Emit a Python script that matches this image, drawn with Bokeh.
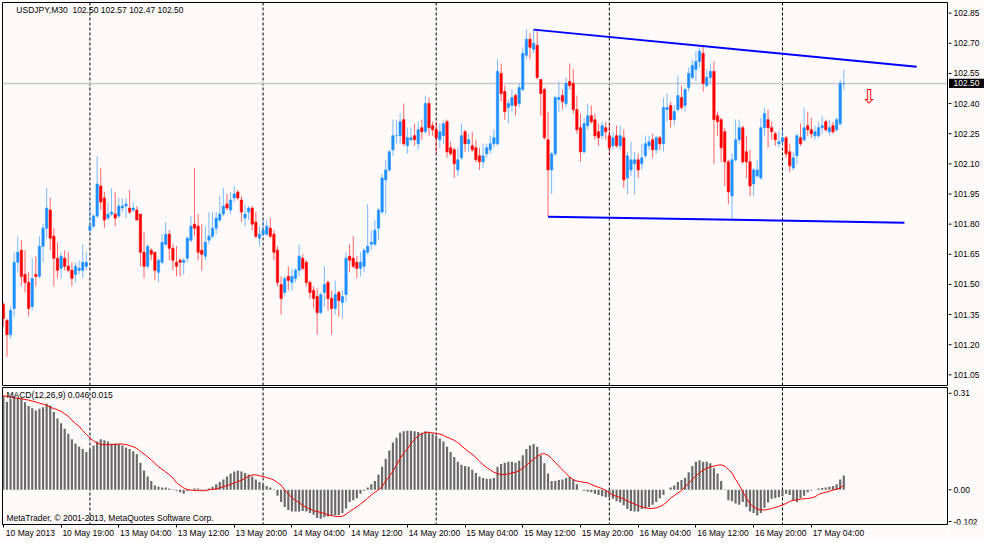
from bokeh.plotting import figure
from bokeh.layouts import column, row
from bokeh.models import ColumnDataSource, FixedTicker, Span, Label, Range1d
from bokeh.embed import file_html
from bokeh.resources import INLINE
from bokeh.core.properties import value

symbol = "USDJPY"
period = "M30"

open_ = [
    101.40, 101.32, 101.25, 101.38, 101.61, 101.67, 101.55, 101.51, 101.39, 101.55,
    101.54, 101.69, 101.78, 101.87, 101.74, 101.63, 101.58, 101.63, 101.59, 101.57,
    101.55, 101.57, 101.57, 101.59, 101.77, 101.79, 101.84, 101.99, 101.93, 101.83,
    101.85, 101.85, 101.84, 101.88, 101.89, 101.88, 101.87, 101.87, 101.85, 101.66,
    101.59, 101.67, 101.66, 101.56, 101.61, 101.70, 101.75, 101.68, 101.61, 101.62,
    101.61, 101.63, 101.72, 101.80, 101.79, 101.67, 101.64, 101.72, 101.74, 101.78,
    101.82, 101.85, 101.90, 101.87, 101.93, 101.96, 101.92, 101.83, 101.86, 101.88,
    101.81, 101.73, 101.75, 101.75, 101.78, 101.75, 101.67, 101.50, 101.46, 101.54,
    101.51, 101.53, 101.57, 101.63, 101.61, 101.51, 101.47, 101.44, 101.36, 101.46,
    101.51, 101.43, 101.38, 101.46, 101.41, 101.45, 101.64, 101.63, 101.61, 101.58,
    101.59, 101.66, 101.70, 101.70, 101.78, 101.86, 102.02, 102.07, 102.17, 102.24,
    102.24, 102.32, 102.19, 102.22, 102.24, 102.20, 102.28, 102.26, 102.40, 102.29,
    102.27, 102.22, 102.24, 102.31, 102.18, 102.17, 102.07, 102.13, 102.26, 102.20,
    102.19, 102.18, 102.14, 102.11, 102.15, 102.17, 102.20, 102.20, 102.55, 102.46,
    102.38, 102.39, 102.44, 102.40, 102.47, 102.64, 102.72, 102.67, 102.69, 102.52,
    102.47, 102.22, 102.07, 102.15, 102.42, 102.44, 102.40, 102.51, 102.50, 102.37,
    102.28, 102.16, 102.29, 102.34, 102.32, 102.26, 102.24, 102.28, 102.24, 102.19,
    102.24, 102.19, 102.23, 102.03, 102.07, 102.10, 102.12, 102.10, 102.14, 102.19,
    102.22, 102.17, 102.23, 102.20, 102.37, 102.39, 102.32, 102.37, 102.43, 102.39,
    102.48, 102.53, 102.57, 102.61, 102.65, 102.49, 102.53, 102.56, 102.34, 102.32,
    102.26, 102.11, 101.94, 102.12, 102.22, 102.28, 102.16, 102.11, 102.00, 102.04,
    102.03, 102.28, 102.32, 102.28, 102.25, 102.20, 102.21, 102.23, 102.16, 102.08,
    102.14, 102.23, 102.22, 102.29, 102.27, 102.24, 102.24, 102.28, 102.31, 102.26,
    102.29, 102.27, 102.30, 102.50,
]
high = [
    101.41, 101.33, 101.39, 101.66, 101.74, 101.72, 101.67, 101.56, 101.63, 101.64,
    101.74, 101.80, 101.98, 101.93, 101.78, 101.71, 101.66, 101.67, 101.66, 101.61,
    101.61, 101.62, 101.70, 101.66, 101.91, 101.85, 102.14, 102.08, 101.96, 101.91,
    101.98, 101.96, 101.93, 101.93, 101.93, 101.97, 101.91, 101.89, 101.85, 101.76,
    101.70, 101.68, 101.66, 101.63, 101.75, 101.81, 101.77, 101.70, 101.69, 101.63,
    101.63, 101.74, 101.84, 102.08, 101.85, 101.80, 101.79, 101.86, 101.86, 101.86,
    101.94, 101.98, 101.95, 101.96, 101.99, 101.97, 101.94, 101.90, 101.89, 101.89,
    101.86, 101.79, 101.82, 101.82, 101.83, 101.77, 101.69, 101.54, 101.54, 101.59,
    101.58, 101.58, 101.70, 101.65, 101.62, 101.52, 101.49, 101.48, 101.46, 101.59,
    101.52, 101.47, 101.52, 101.47, 101.47, 101.66, 101.70, 101.74, 101.64, 101.66,
    101.68, 101.90, 101.77, 101.82, 101.88, 102.05, 102.12, 102.17, 102.32, 102.32,
    102.35, 102.40, 102.28, 102.28, 102.30, 102.31, 102.32, 102.44, 102.43, 102.31,
    102.31, 102.30, 102.31, 102.32, 102.21, 102.18, 102.18, 102.30, 102.27, 102.25,
    102.26, 102.22, 102.18, 102.20, 102.20, 102.24, 102.27, 102.62, 102.60, 102.49,
    102.42, 102.47, 102.45, 102.50, 102.68, 102.77, 102.75, 102.77, 102.76, 102.52,
    102.48, 102.36, 102.16, 102.44, 102.51, 102.47, 102.53, 102.60, 102.57, 102.44,
    102.35, 102.33, 102.40, 102.39, 102.35, 102.30, 102.31, 102.31, 102.30, 102.26,
    102.29, 102.29, 102.27, 102.16, 102.21, 102.16, 102.15, 102.20, 102.24, 102.24,
    102.25, 102.24, 102.24, 102.43, 102.45, 102.41, 102.39, 102.54, 102.49, 102.48,
    102.58, 102.62, 102.66, 102.68, 102.69, 102.57, 102.60, 102.61, 102.36, 102.33,
    102.28, 102.12, 102.15, 102.32, 102.32, 102.29, 102.24, 102.17, 102.08, 102.12,
    102.33, 102.38, 102.37, 102.31, 102.26, 102.26, 102.27, 102.24, 102.20, 102.16,
    102.25, 102.30, 102.38, 102.36, 102.33, 102.29, 102.31, 102.34, 102.32, 102.32,
    102.31, 102.33, 102.52, 102.57,
]
low = [
    101.29, 101.14, 101.23, 101.34, 101.56, 101.49, 101.46, 101.34, 101.37, 101.49,
    101.53, 101.61, 101.73, 101.67, 101.49, 101.53, 101.53, 101.57, 101.56, 101.49,
    101.51, 101.55, 101.53, 101.57, 101.75, 101.78, 101.83, 101.87, 101.78, 101.82,
    101.84, 101.79, 101.83, 101.86, 101.83, 101.85, 101.86, 101.82, 101.59, 101.53,
    101.58, 101.62, 101.52, 101.51, 101.60, 101.69, 101.62, 101.57, 101.54, 101.54,
    101.55, 101.61, 101.71, 101.74, 101.62, 101.57, 101.62, 101.70, 101.73, 101.75,
    101.81, 101.84, 101.87, 101.85, 101.91, 101.92, 101.81, 101.79, 101.82, 101.77,
    101.73, 101.69, 101.74, 101.74, 101.73, 101.62, 101.49, 101.35, 101.44, 101.47,
    101.47, 101.51, 101.54, 101.57, 101.49, 101.43, 101.38, 101.25, 101.35, 101.39,
    101.37, 101.25, 101.35, 101.34, 101.33, 101.41, 101.56, 101.58, 101.53, 101.54,
    101.56, 101.65, 101.67, 101.69, 101.72, 101.85, 101.85, 102.06, 102.14, 102.20,
    102.20, 102.19, 102.15, 102.21, 102.19, 102.17, 102.22, 102.25, 102.24, 102.24,
    102.15, 102.18, 102.20, 102.13, 102.14, 102.03, 102.04, 102.12, 102.16, 102.16,
    102.16, 102.11, 102.07, 102.08, 102.13, 102.15, 102.18, 102.19, 102.41, 102.32,
    102.30, 102.36, 102.34, 102.38, 102.46, 102.62, 102.62, 102.65, 102.52, 102.34,
    102.22, 101.84, 101.95, 102.14, 102.36, 102.37, 102.38, 102.47, 102.35, 102.25,
    102.11, 102.15, 102.27, 102.30, 102.22, 102.19, 102.22, 102.22, 102.15, 102.17,
    102.18, 102.17, 101.98, 101.95, 102.04, 101.95, 102.03, 102.07, 102.13, 102.17,
    102.13, 102.15, 102.17, 102.16, 102.31, 102.28, 102.29, 102.36, 102.37, 102.36,
    102.46, 102.52, 102.51, 102.58, 102.46, 102.48, 102.50, 102.10, 102.24, 102.11,
    101.99, 101.90, 101.82, 102.11, 102.20, 102.10, 102.03, 101.94, 101.94, 102.03,
    102.02, 102.24, 102.18, 102.22, 102.19, 102.18, 102.19, 102.13, 102.06, 102.07,
    102.10, 102.19, 102.21, 102.24, 102.23, 102.22, 102.23, 102.25, 102.26, 102.24,
    102.25, 102.26, 102.29, 102.47,
]
close = [
    101.33, 101.25, 101.37, 101.61, 101.66, 101.54, 101.51, 101.38, 101.53, 101.54,
    101.69, 101.78, 101.88, 101.73, 101.63, 101.57, 101.64, 101.59, 101.57, 101.53,
    101.59, 101.58, 101.61, 101.61, 101.79, 101.84, 102.00, 101.91, 101.82, 101.85,
    101.86, 101.83, 101.89, 101.89, 101.90, 101.86, 101.88, 101.82, 101.66, 101.59,
    101.69, 101.65, 101.57, 101.62, 101.71, 101.75, 101.68, 101.62, 101.59, 101.61,
    101.62, 101.73, 101.79, 101.78, 101.66, 101.65, 101.71, 101.74, 101.78, 101.83,
    101.85, 101.89, 101.88, 101.92, 101.95, 101.93, 101.86, 101.85, 101.88, 101.80,
    101.74, 101.75, 101.77, 101.79, 101.74, 101.66, 101.51, 101.43, 101.53, 101.52,
    101.54, 101.57, 101.64, 101.58, 101.51, 101.46, 101.43, 101.36, 101.45, 101.50,
    101.43, 101.38, 101.45, 101.42, 101.44, 101.63, 101.62, 101.59, 101.58, 101.61,
    101.67, 101.69, 101.71, 101.77, 101.87, 102.03, 102.07, 102.16, 102.24, 102.24,
    102.31, 102.20, 102.23, 102.23, 102.22, 102.27, 102.26, 102.40, 102.28, 102.27,
    102.23, 102.26, 102.30, 102.16, 102.15, 102.10, 102.12, 102.24, 102.20, 102.22,
    102.17, 102.12, 102.11, 102.14, 102.18, 102.20, 102.23, 102.56, 102.45, 102.36,
    102.40, 102.43, 102.39, 102.48, 102.65, 102.72, 102.68, 102.70, 102.53, 102.45,
    102.23, 102.07, 102.15, 102.43, 102.43, 102.41, 102.50, 102.49, 102.37, 102.27,
    102.16, 102.30, 102.34, 102.31, 102.24, 102.23, 102.29, 102.26, 102.18, 102.23,
    102.19, 102.24, 102.02, 102.14, 102.12, 102.12, 102.07, 102.13, 102.20, 102.21,
    102.17, 102.23, 102.20, 102.38, 102.38, 102.32, 102.36, 102.44, 102.38, 102.47,
    102.55, 102.59, 102.61, 102.66, 102.50, 102.53, 102.56, 102.32, 102.31, 102.18,
    102.11, 101.96, 102.12, 102.22, 102.28, 102.11, 102.11, 101.99, 102.07, 102.07,
    102.28, 102.35, 102.28, 102.26, 102.22, 102.21, 102.23, 102.15, 102.09, 102.13,
    102.24, 102.20, 102.28, 102.27, 102.25, 102.26, 102.28, 102.29, 102.27, 102.28,
    102.26, 102.32, 102.50, 102.50,
]
macd_main = [
    0.302, 0.283, 0.293, 0.300, 0.296, 0.293, 0.281, 0.269, 0.262, 0.255,
    0.260, 0.265, 0.276, 0.271, 0.250, 0.229, 0.214, 0.196, 0.180, 0.162,
    0.149, 0.138, 0.131, 0.121, 0.131, 0.142, 0.155, 0.162, 0.159, 0.155,
    0.149, 0.149, 0.147, 0.142, 0.136, 0.131, 0.124, 0.114, 0.087, 0.062,
    0.043, 0.028, 0.014, 0.010, 0.007, 0.007, 0.004, 0.002, -0.003, -0.008,
    -0.013, -0.004, 0.000, 0.004, 0.004, 0.002, 0.002, 0.004, 0.010, 0.018,
    0.025, 0.033, 0.043, 0.052, 0.059, 0.062, 0.059, 0.054, 0.049, 0.043,
    0.033, 0.025, 0.018, 0.012, 0.007, 0.002, -0.019, -0.039, -0.055, -0.065,
    -0.070, -0.070, -0.070, -0.068, -0.070, -0.075, -0.080, -0.091, -0.093, -0.088,
    -0.086, -0.083, -0.081, -0.081, -0.075, -0.060, -0.039, -0.034, -0.027, -0.013,
    -0.003, 0.007, 0.018, 0.028, 0.049, 0.074, 0.100, 0.126, 0.152, 0.167,
    0.183, 0.188, 0.190, 0.190, 0.188, 0.186, 0.183, 0.188, 0.183, 0.180,
    0.173, 0.165, 0.155, 0.138, 0.121, 0.105, 0.090, 0.080, 0.076, 0.074,
    0.064, 0.054, 0.043, 0.038, 0.035, 0.035, 0.038, 0.074, 0.083, 0.087,
    0.090, 0.090, 0.087, 0.093, 0.111, 0.131, 0.142, 0.147, 0.138, 0.111,
    0.085, 0.052, 0.028, 0.028, 0.031, 0.033, 0.038, 0.041, 0.033, 0.018,
    0.000, -0.003, -0.006, -0.008, -0.013, -0.017, -0.021, -0.024, -0.024, -0.029,
    -0.037, -0.041, -0.050, -0.062, -0.068, -0.070, -0.070, -0.062, -0.060, -0.055,
    -0.048, -0.039, -0.027, -0.017, 0.000, 0.007, 0.014, 0.025, 0.031, 0.038,
    0.056, 0.076, 0.090, 0.095, 0.090, 0.090, 0.085, 0.069, 0.052, 0.028,
    0.002, -0.034, -0.037, -0.044, -0.048, -0.039, -0.055, -0.070, -0.075, -0.083,
    -0.075, -0.058, -0.041, -0.029, -0.027, -0.024, -0.021, -0.013, -0.017, -0.034,
    -0.039, -0.027, -0.019, -0.008, -0.002, 0.000, 0.004, 0.006, 0.007, 0.010,
    0.012, 0.018, 0.033, 0.046,
]
macd_signal = [
    0.302, 0.300, 0.298, 0.296, 0.294, 0.292, 0.290, 0.288, 0.285, 0.282,
    0.278, 0.275, 0.271, 0.265, 0.261, 0.257, 0.252, 0.244, 0.236, 0.223,
    0.213, 0.204, 0.190, 0.178, 0.167, 0.157, 0.150, 0.146, 0.145, 0.145,
    0.145, 0.146, 0.147, 0.147, 0.145, 0.142, 0.138, 0.133, 0.123, 0.115,
    0.106, 0.096, 0.085, 0.074, 0.066, 0.057, 0.048, 0.038, 0.023, 0.014,
    0.006, 0.001, -0.001, -0.002, -0.003, -0.003, -0.003, 0.000, 0.001, 0.003,
    0.006, 0.010, 0.013, 0.018, 0.022, 0.026, 0.031, 0.037, 0.043, 0.048,
    0.048, 0.045, 0.043, 0.039, 0.036, 0.031, 0.023, 0.015, -0.001, -0.013,
    -0.026, -0.034, -0.041, -0.050, -0.057, -0.062, -0.067, -0.070, -0.073, -0.076,
    -0.081, -0.083, -0.085, -0.086, -0.085, -0.079, -0.070, -0.062, -0.055, -0.046,
    -0.037, -0.027, -0.017, -0.008, 0.000, 0.010, 0.028, 0.043, 0.059, 0.080,
    0.100, 0.118, 0.131, 0.149, 0.162, 0.173, 0.180, 0.184, 0.185, 0.183,
    0.181, 0.179, 0.175, 0.169, 0.164, 0.159, 0.151, 0.142, 0.131, 0.122,
    0.114, 0.103, 0.092, 0.080, 0.071, 0.064, 0.056, 0.052, 0.049, 0.049,
    0.051, 0.054, 0.056, 0.061, 0.069, 0.079, 0.089, 0.098, 0.107, 0.115,
    0.116, 0.111, 0.100, 0.088, 0.076, 0.064, 0.052, 0.041, 0.033, 0.028,
    0.026, 0.024, 0.022, 0.017, 0.012, 0.008, 0.004, -0.002, -0.010, -0.017,
    -0.021, -0.025, -0.030, -0.036, -0.041, -0.046, -0.051, -0.055, -0.058, -0.060,
    -0.060, -0.058, -0.054, -0.048, -0.039, -0.026, -0.019, -0.010, -0.003, 0.010,
    0.021, 0.033, 0.045, 0.054, 0.063, 0.069, 0.074, 0.076, 0.079, 0.080,
    0.076, 0.066, 0.054, 0.033, 0.015, -0.006, -0.027, -0.045, -0.055, -0.062,
    -0.064, -0.065, -0.063, -0.060, -0.057, -0.053, -0.049, -0.044, -0.037, -0.034,
    -0.032, -0.030, -0.029, -0.028, -0.026, -0.023, -0.015, -0.011, -0.008, -0.005,
    -0.001, 0.002, 0.006, 0.015,
]

price_ticks = [101.05, 101.20, 101.35, 101.50, 101.65, 101.80, 101.95,
               102.10, 102.25, 102.40, 102.55, 102.70, 102.85]
macd_ticks = [0.31, 0.0, -0.102]
macd_tick_labels = ["0.31", "0.00", "-0.102"]
time_tick_bars = [0, 16, 32, 48, 64, 80, 96, 112, 128, 144, 160, 176, 192, 208, 224]
time_tick_labels = ["10 May 2013", "10 May 19:00", "13 May 04:00", "13 May 12:00",
                    "13 May 20:00", "14 May 04:00", "14 May 12:00", "14 May 20:00",
                    "15 May 04:00", "15 May 12:00", "15 May 20:00", "16 May 04:00",
                    "16 May 12:00", "16 May 20:00", "17 May 04:00"]
day_starts = [24, 72, 120, 168, 216]

upper_line_bars = [147, 253.2]
upper_line_prices = [102.768, 102.583]
lower_line_bars = [151, 249.8]
lower_line_prices = [101.837, 101.807]

arrow_bar = 240
arrow_price = 102.492

BG = "#FFFAFA"
UP = "#1E90FF"
DN = "#FF0000"
HIST = "#6A6A6A"
FONT = "Liberation Sans"
FS = "8.5px"

n = len(close)
xs = list(range(n))
colors = [UP if c >= o else DN for o, c in zip(open_, close)]
src = ColumnDataSource(dict(
    x=xs, l=low, h=high,
    top=[max(o, c) for o, c in zip(open_, close)],
    bottom=[min(o, c) for o, c in zip(open_, close)],
    color=colors))

x_range = Range1d(-0.24, 261.75)
price_range = Range1d(100.997, 102.903)
macd_range = Range1d(-0.1116, 0.3286)

MAIN_W = 948
AX_W = 984 - MAIN_W
H1, H2 = 386, 154


def base(p, outline=True):
    p.background_fill_color = BG
    p.border_fill_color = BG
    p.outline_line_color = "black" if outline else None
    p.outline_line_width = 1
    p.grid.visible = False


def axis_panel(height, yr, ticks, labels, top, bottom):
    a = figure(width=AX_W, height=height, x_range=Range1d(0, AX_W), y_range=yr,
               output_backend="svg", toolbar_location=None,
               x_axis_location=None, y_axis_location=None,
               min_border_left=0, min_border_right=0,
               min_border_top=top, min_border_bottom=bottom)
    base(a, outline=False)
    a.segment(x0=[0] * len(ticks), y0=ticks, x1=[3] * len(ticks), y1=ticks,
              line_color="black", line_width=1)
    a.text(x=[5] * len(ticks), y=ticks, text=labels, text_font=value(FONT),
           text_font_size=FS, text_color="black", text_align="left",
           text_baseline="middle")
    return a


# ---------------- price panel ----------------
p1 = figure(width=MAIN_W, height=H1, x_range=x_range, y_range=price_range,
            output_backend="svg", toolbar_location=None, x_axis_location=None,
            y_axis_location=None, min_border_left=2, min_border_right=1,
            min_border_top=2, min_border_bottom=1)
base(p1)

for d in day_starts:
    p1.add_layout(Span(location=d, dimension="height", line_color="black",
                       line_dash="3 2", line_width=1, level="underlay"))
p1.add_layout(Span(location=close[-1], dimension="width", line_color="#C8C8C8",
                   line_width=1.5, level="underlay"))

p1.segment(x0="x", y0="l", x1="x", y1="h", source=src, line_color="color",
           line_width=1, line_alpha=0.6)
p1.vbar(x="x", width=0.65, top="top", bottom="bottom", source=src,
        fill_color="color", line_color="color", line_width=0.6)

p1.line(upper_line_bars, upper_line_prices, line_color="#0000FF", line_width=2)
p1.line(lower_line_bars, lower_line_prices, line_color="#0000FF", line_width=2)

p1.text(x=[arrow_bar], y=[arrow_price], text=["\u21E9"], text_color=DN,
        text_font=value("DejaVu Sans"), text_font_size="19px",
        text_align="center", text_baseline="top")

header = (f"{symbol},{period}\u00a0\u00a0{open_[-1]:.2f} {high[-1]:.2f} "
          f"{low[-1]:.2f} {close[-1]:.2f}")
p1.add_layout(Label(x=3.6, y=102.866, text=header, text_font=FONT,
                    text_font_size=FS, text_baseline="middle", text_color="black"))

a1 = axis_panel(H1, price_range, price_ticks, [f"{t:.2f}" for t in price_ticks], 2, 1)
a1.quad(left=[0.5], right=[AX_W], top=[close[-1] + 0.023], bottom=[close[-1] - 0.023],
        fill_color="black", line_color=None)
a1.text(x=[5], y=[close[-1]], text=[f"{close[-1]:.2f}"], text_font=value(FONT),
        text_font_size=FS, text_color="white", text_align="left",
        text_baseline="middle")

# ---------------- MACD panel ----------------
p2 = figure(width=MAIN_W, height=H2, x_range=x_range, y_range=macd_range,
            output_backend="svg", toolbar_location=None, y_axis_location=None,
            min_border_left=2, min_border_right=1, min_border_top=1,
            min_border_bottom=16)
base(p2)

for d in day_starts:
    p2.add_layout(Span(location=d, dimension="height", line_color="black",
                       line_dash="3 2", line_width=1, level="underlay"))

p2.vbar(x=xs, width=0.6, top=macd_main, bottom=0, fill_color=HIST, line_color=None)
p2.line(xs, macd_signal, line_color="#FF0000", line_width=1)

p2.add_layout(Label(x=0.85, y=0.304,
                    text=f"MACD(12,26,9) {macd_main[-1]:.3f} {macd_signal[-1]:.3f}",
                    text_font=FONT, text_font_size=FS, text_baseline="middle",
                    text_color="black"))
p2.add_layout(Label(x=0.85, y=-0.090,
                    text="MetaTrader, \u00a9 2001-2013, MetaQuotes Software Corp.",
                    text_font=FONT, text_font_size=FS, text_baseline="middle",
                    text_color="black"))

label_offset = 7.5
centers = [float(b + label_offset) for b in time_tick_bars]
xov = {}
for c, lab in zip(centers, time_tick_labels):
    xov[c] = lab
    xov[str(c)] = lab
xa = p2.xaxis[0]
xa.ticker = FixedTicker(ticks=centers, minor_ticks=time_tick_bars)
xa.major_label_overrides = xov
xa.axis_line_color = "black"
xa.major_tick_line_color = None
xa.major_tick_in = 0
xa.major_tick_out = 3
xa.minor_tick_line_color = "black"
xa.minor_tick_in = 0
xa.minor_tick_out = 3
xa.major_label_standoff = 0
xa.major_label_text_font = FONT
xa.major_label_text_font_size = FS
xa.major_label_text_color = "black"

a2 = axis_panel(H2, macd_range, macd_ticks, macd_tick_labels, 1, 16)

layout = column(row(p1, a1), row(p2, a2))
open("out.html", "w").write(file_html(layout, INLINE))
